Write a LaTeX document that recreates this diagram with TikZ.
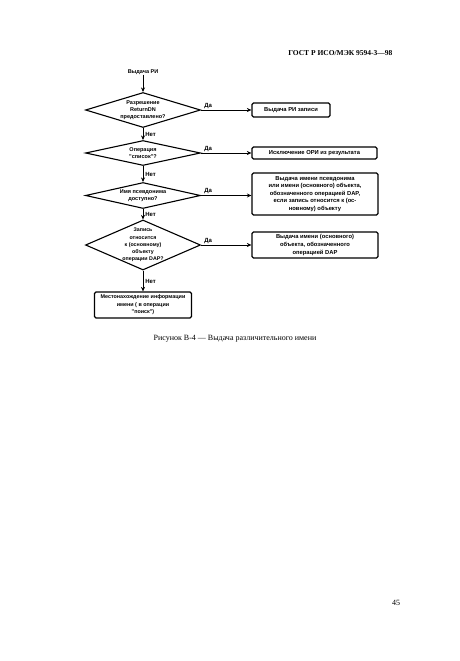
\documentclass[tikz,border=0pt]{standalone}
\usepackage{fontspec}
\setmainfont{Liberation Serif}
\newfontfamily\diagfont{Liberation Sans}
\usetikzlibrary{shapes.geometric}
\usetikzlibrary{arrows.meta}

\tikzset{
  flow/.style={black, line width=0.8pt, -{Stealth[length=4.5pt,width=4pt]}},
  decision/.style={diamond, draw=black, line width=1.1pt, inner sep=0pt, minimum width=115pt},
  dtext/.style={align=center, inner sep=0pt, font=\diagfont\fontsize{5.5}{6.8}\selectfont\bfseries},
  resultbox/.style={draw=black, line width=1.2pt, rounded corners=1.5pt, inner sep=0pt, align=center,
    font=\diagfont\fontsize{5.8}{7.6}\selectfont\bfseries},
  yes/.style={pos=0, anchor=south west, xshift=3pt, yshift=1pt, inner sep=0pt,
    font=\diagfont\fontsize{6}{7}\selectfont\bfseries},
  no/.style={right, xshift=2pt, inner sep=0pt, font=\diagfont\fontsize{6}{7}\selectfont\bfseries}
}

\begin{document}
\begin{tikzpicture}[x=1pt, y=-1pt]
        \useasboundingbox (0,0) rectangle (460,661);
        \node[anchor=east, font=\fontsize{7.5}{9}\selectfont\bfseries] (gost) at (396,53) {ГОСТ Р ИСО/МЭК 9594-3—98};

        \node[dtext] (start) at (143,72) {Выдача РИ};

        \node[decision, minimum height=35pt] (d1) at (143,110) {};
        \node[dtext] (d1t) at (d1) {Разрешение\\ReturnDN\\предоставлено?};
        \node[decision, minimum height=25pt] (d2) at (143,153) {};
        \node[dtext] (d2t) at (d2) {Операция\\"список"?};
        \node[decision, minimum height=26pt] (d3) at (143,195.5) {};
        \node[dtext] (d3t) at (d3) {Имя псевдонима\\доступно?};
        \node[decision, minimum height=50pt] (d4) at (143,245) {};
        \node[dtext, font=\diagfont\fontsize{5.3}{7.2}\selectfont\bfseries] (d4t) at (d4) {Запись\\относится\\к (основному)\\объекту\\операции DAP?};

        \node[resultbox, minimum width=97pt, minimum height=26pt, font=\diagfont\fontsize{5.4}{7.4}\selectfont\bfseries] (fin) at (143,305) {Местонахождение информации\\имени ( в операции\\"поиск")};

        \node[resultbox, minimum width=78pt, minimum height=14pt] (ra) at (291,110) {Выдача РИ записи};
        \node[resultbox, minimum width=125pt, minimum height=12pt] (rb) at (314.5,153) {Исключение ОРИ из результата};
        \node[resultbox, minimum width=126pt, minimum height=42pt] (rc) at (315,194) {Выдача имени псевдонима\\или имени (основного) объекта,\\обозначенного операцией DAP,\\если запись относится к (ос-\\новному) объекту};
        \node[resultbox, minimum width=126pt, minimum height=26pt] (rd) at (315,245) {Выдача имени (основного)\\объекта, обозначенного\\операцией DAP};

        \draw[flow] (start) -- (d1.north);
        \draw[flow] (d1.south) -- node[no] {Нет} (d2.north);
        \draw[flow] (d2.south) -- node[no] {Нет} (d3.north);
        \draw[flow] (d3.south) -- node[no] {Нет} (d4.north);
        \draw[flow] (d4.south) -- node[no] {Нет} (fin.north);

        \draw[flow] (d1.east) -- node[yes] {Да} (d1.east -| ra.west);
        \draw[flow] (d2.east) -- node[yes] {Да} (d2.east -| rb.west);
        \draw[flow] (d3.east) -- node[yes] {Да} (d3.east -| rc.west);
        \draw[flow] (d4.east) -- node[yes] {Да} (d4.east -| rd.west);

        \node[font=\fontsize{8}{10}\selectfont] (caption) at (235,339) {Рисунок В-4 — Выдача различительного имени};
        \node[font=\fontsize{8}{10}\selectfont] (page) at (396,603) {45};
    \end{tikzpicture}
\end{document}
